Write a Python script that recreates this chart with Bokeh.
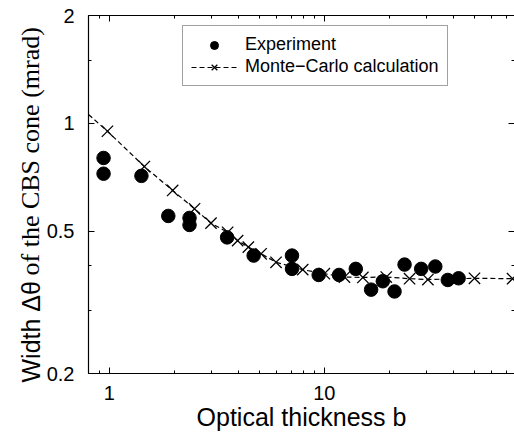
import math
from bokeh.plotting import figure
from bokeh.models import (LogAxis, FixedTicker, CustomJSTickFormatter, Legend,
                          LegendItem, Label, Range1d)
from bokeh.embed import file_html
from bokeh.resources import INLINE

# Coherent backscattering cone width versus optical thickness
exp_b = [0.94, 0.94, 1.41, 1.88, 2.36, 2.36, 3.53, 4.69, 7.07, 7.07, 9.41,
         11.7, 14.0, 16.5, 18.7, 21.2, 23.6, 28.2, 32.8, 37.5, 42.1]
exp_width = [0.80, 0.723, 0.713, 0.551, 0.544, 0.520, 0.480, 0.427, 0.427,
             0.392, 0.377, 0.377, 0.392, 0.343, 0.362, 0.339, 0.403, 0.392,
             0.398, 0.365, 0.369]

# Monte-Carlo curve; the first value is where the curve meets the b axis start
mc_b = [0.80, 0.98, 1.455, 1.97, 2.49, 2.97, 3.55, 3.95, 4.43, 5.08, 5.96,
        7.93, 10.0, 12.4, 15.1, 19.4, 24.9, 30.3, 49.9, 75.0]
mc_width = [1.058, 0.95, 0.757, 0.649, 0.577, 0.526, 0.496, 0.470, 0.451,
            0.432, 0.409, 0.390, 0.380, 0.372, 0.371, 0.372, 0.368, 0.366,
            0.369, 0.368]

x_major = [1, 10]
x_minor = [0.8, 0.9, 2, 3, 4, 5, 6, 7, 8, 9, 20, 30, 40, 50, 60, 70, 80]
y_major = [0.2, 0.5, 1, 2]
y_minor = [0.3, 0.4, 1.5]

X_LO, X_HI = 0.8, 76.6      # extent of the drawn b axis
Y_LO, Y_HI = 0.2, 2.0       # extent of the drawn width axis

SANS = "Liberation Sans"
SERIF = "Liberation Serif"

W, H = 514, 432
LEFT, TOP, BOTTOM = 88, 15, 59   # room kept around the axes box

# The frame fills the canvas; axes sit at fixed data locations
x_dec = (W - LEFT) / math.log10(X_HI / X_LO)
y_dec = (H - TOP - BOTTOM) / math.log10(Y_HI / Y_LO)
x_range = Range1d(X_LO * 10 ** (-LEFT / x_dec), X_HI)
y_range = Range1d(Y_LO * 10 ** (-BOTTOM / y_dec), Y_HI * 10 ** (TOP / y_dec))

p = figure(width=W, height=H, x_axis_type="log", y_axis_type="log",
           x_range=x_range, y_range=y_range,
           output_backend="svg", toolbar_location=None,
           min_border=0, min_border_left=0, min_border_right=0,
           min_border_top=0, min_border_bottom=0)
p.outline_line_color = None
p.xgrid.visible = False
p.ygrid.visible = False
p.background_fill_color = "white"
p.border_fill_color = "white"

fmt = CustomJSTickFormatter(code="return String(tick);")
xt = FixedTicker(ticks=x_major, minor_ticks=x_minor)
yt = FixedTicker(ticks=y_major, minor_ticks=y_minor)


def style(ax, labels=True):
    ax.axis_line_color = "black"
    ax.axis_line_width = 1.2
    ax.major_tick_in = 6
    ax.major_tick_out = 0
    ax.minor_tick_in = 3
    ax.minor_tick_out = 0
    ax.major_tick_line_color = "black"
    ax.minor_tick_line_color = "black"
    ax.formatter = fmt
    if labels:
        ax.major_label_text_font = SANS
        ax.major_label_text_font_size = "20px"
        ax.major_label_text_color = "black"
    else:
        ax.major_label_text_font_size = "1px"
        ax.major_label_text_alpha = 0
        ax.major_label_standoff = 0


xa = p.xaxis[0]
xa.ticker = xt
xa.fixed_location = Y_LO
xa.bounds = (X_LO, X_HI)
style(xa)
xa.major_label_standoff = 12
xa.axis_label = "Optical thickness b"
xa.axis_label_text_font = SANS
xa.axis_label_text_font_size = "25px"
xa.axis_label_text_font_style = "normal"
xa.axis_label_text_color = "black"
xa.axis_label_standoff = 0

ya = p.yaxis[0]
ya.ticker = yt
ya.fixed_location = X_LO
ya.bounds = (Y_LO, Y_HI)
style(ya)
ya.major_label_standoff = 14

top = LogAxis(ticker=xt, fixed_location=Y_HI, bounds=(X_LO, X_HI))
style(top, labels=False)
p.add_layout(top, "above")

right = LogAxis(ticker=yt, fixed_location=X_HI, bounds=(Y_LO, Y_HI))
style(right, labels=False)
right.axis_line_color = None
p.add_layout(right, "right")

# Monte-Carlo curve: dashed line with cross markers at computed points
mc_line = p.line(mc_b, mc_width, line_color="black", line_width=1.2,
                 line_dash="5 3")
mc_pts = p.scatter(mc_b[1:], mc_width[1:], marker="x", size=16,
                   line_color="black", line_width=1.3)

# Experimental points
exp_pts = p.scatter(exp_b, exp_width, marker="circle", size=13.5,
                    fill_color="black", line_color="black")

legend = Legend(items=[
    LegendItem(label="Experiment", renderers=[exp_pts]),
    LegendItem(label="Monte\u2212Carlo calculation", renderers=[mc_line, mc_pts]),
], location=(182, H - 86))
legend.label_text_font = SANS
legend.label_text_font_size = "18px"
legend.label_text_color = "black"
legend.glyph_width = 46
legend.glyph_height = 20
legend.label_height = 20
legend.label_standoff = 8
legend.spacing = 1
legend.padding = 8
legend.margin = 0
legend.border_line_color = "#444444"
legend.border_line_width = 1
legend.background_fill_alpha = 1.0
p.add_layout(legend, "center")

# Y axis title set in two fonts
p.add_layout(Label(x=30, y=50, x_units="screen", y_units="screen",
                   angle=math.pi / 2, text="Width \u0394\u03b8",
                   text_font=SANS, text_font_size="25px",
                   text_baseline="middle", text_align="left",
                   text_color="black"))
p.add_layout(Label(x=30, y=157, x_units="screen", y_units="screen",
                   angle=math.pi / 2, text="of the CBS cone (mrad)",
                   text_font=SERIF, text_font_size="26px",
                   text_baseline="middle", text_align="left",
                   text_color="black"))

open("out.html", "w").write(file_html(p, INLINE))
